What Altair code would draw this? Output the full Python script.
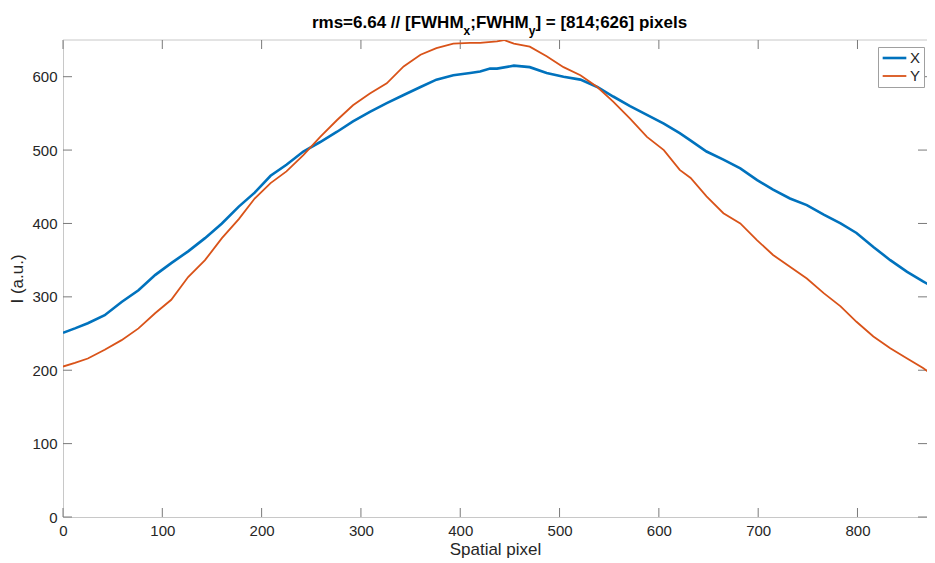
import altair as alt
import pandas as pd

# ---------------- data ----------------
series_names = ["X", "Y"]
series_colors = ["#0072BD", "#D95319"]

blue_x = [0, 12, 25, 42, 59, 76, 93, 109, 126, 143, 160, 177, 193, 209, 225, 242,
          259, 276, 292, 309, 326, 343, 360, 376, 393, 410, 420, 430, 437, 454, 470,
          487, 504, 521, 538, 554, 571, 588, 605, 621, 631, 648, 665, 682, 699, 715,
          732, 749, 766, 783, 799, 816, 833, 850, 866, 878]
blue_y = [251, 257, 264, 275, 293, 309, 330, 346, 362, 380, 400, 423, 442, 465, 480, 498,
          511, 525, 539, 552, 564, 575, 586, 596, 602, 605, 607, 611, 611, 615, 613,
          605, 600, 596, 586, 573, 560, 548, 536, 523, 514, 498, 487, 475, 459, 446,
          434, 425, 412, 400, 387, 368, 350, 334, 321, 312]

orange_x = [0, 12, 25, 42, 59, 76, 93, 109, 126, 143, 160, 177, 193, 209, 225, 242,
            259, 276, 292, 309, 326, 343, 360, 376, 393, 410, 420, 437, 444, 454, 470,
            487, 504, 521, 538, 554, 571, 588, 605, 621, 632, 648, 665, 682, 699, 715,
            732, 749, 766, 783, 799, 816, 833, 850, 866, 878]
orange_y = [205, 210, 216, 228, 241, 257, 278, 296, 327, 350, 380, 406, 434, 455, 471, 493,
            518, 541, 561, 577, 591, 614, 630, 639, 645, 646, 646, 648, 650, 645, 641,
            628, 613, 602, 586, 566, 543, 518, 500, 473, 462, 437, 414, 400, 377, 357,
            341, 325, 305, 287, 266, 246, 230, 216, 203, 191]

x_ticks = [0, 100, 200, 300, 400, 500, 600, 700, 800]
y_ticks = [0, 100, 200, 300, 400, 500, 600]
x_domain = [0, 870]
y_domain = [0, 650]

title_parts = ["rms=6.64 // [FWHM", "x", ";FWHM", "y", "] = [814;626] pixels"]
x_title = "Spatial pixel"
y_title = "I (a.u.)"

# ---------------- styling ----------------
W, H = 864, 477
FONT = "Liberation Sans"
TEXT = "#262626"
DOMAIN = "#c8c8c8"
TICK = "#7a7a7a"
TICK_LEN = 9

df = pd.concat([
    pd.DataFrame({"x": blue_x, "y": blue_y, "s": series_names[0]}),
    pd.DataFrame({"x": orange_x, "y": orange_y, "s": series_names[1]}),
], ignore_index=True)

xscale = alt.Scale(domain=x_domain, nice=False, zero=False)
yscale = alt.Scale(domain=y_domain, nice=False)

xaxis = alt.Axis(values=x_ticks, ticks=False, grid=False, domainColor=DOMAIN,
                 labelFont=FONT, labelFontSize=15, labelColor=TEXT, labelPadding=6,
                 labelFlush=False, labelOverlap=False,
                 titleFont=FONT, titleFontSize=17, titleColor=TEXT,
                 titleFontWeight="normal", titlePadding=3)
yaxis = alt.Axis(values=y_ticks, ticks=False, grid=False, domainColor=DOMAIN,
                 labelFont=FONT, labelFontSize=15, labelColor=TEXT, labelPadding=6,
                 labelFlush=False, labelOverlap=False,
                 titleFont=FONT, titleFontSize=17, titleColor=TEXT,
                 titleFontWeight="normal", titlePadding=5)


def X():
    return alt.X("x:Q", scale=xscale, axis=xaxis, title=x_title)


def Y():
    return alt.Y("y:Q", scale=yscale, axis=yaxis, title=y_title)


lines = alt.Chart(df).mark_line(clip=True).encode(
    x=X(), y=Y(),
    color=alt.Color("s:N", scale=alt.Scale(domain=series_names, range=series_colors),
                    legend=alt.Legend(orient="none", legendX=815, legendY=7, title=None,
                                      symbolType="stroke", symbolSize=560,
                                      symbolStrokeWidth=1.6, labelFont=FONT,
                                      labelFontSize=15, labelColor=TEXT,
                                      fillColor="white", strokeColor="#a0a0a0",
                                      padding=3, rowPadding=2, clipHeight=16,
                                      labelOffset=2)),
    strokeWidth=alt.StrokeWidth("s:N", scale=alt.Scale(domain=series_names, range=[2.6, 1.8]),
                                legend=None),
    detail="s:N",
)

xt = pd.DataFrame({"x": x_ticks})
yt = pd.DataFrame({"y": y_ticks})

bottom_ticks = alt.Chart(xt).mark_rule(color=TICK, strokeWidth=1).encode(
    x=X(), y=alt.value(H), y2=alt.value(H - TICK_LEN))
top_ticks = alt.Chart(xt).mark_rule(color=TICK, strokeWidth=1).encode(
    x=X(), y=alt.value(0), y2=alt.value(TICK_LEN))
left_ticks = alt.Chart(yt).mark_rule(color=TICK, strokeWidth=1).encode(
    y=Y(), x=alt.value(0), x2=alt.value(TICK_LEN))
right_ticks = alt.Chart(yt).mark_rule(color=TICK, strokeWidth=1).encode(
    y=Y(), x=alt.value(W - TICK_LEN), x2=alt.value(W))

top_line = alt.Chart(pd.DataFrame({"a": [0]})).mark_rule(color=DOMAIN, strokeWidth=1).encode(
    x=alt.value(0), x2=alt.value(W), y=alt.value(0))

# ---------------- title with subscripts ----------------
EM = {'r': .389, 'm': .889, 's': .556, '=': .584, '6': .556, '.': .278, '4': .556,
      ' ': .278, '/': .278, '[': .333, 'F': .611, 'W': .944, 'H': .722, 'M': .833,
      'x': .556, ';': .333, ']': .333, '8': .556, '1': .556, '2': .556, 'p': .611,
      'i': .278, 'e': .556, 'l': .278, 'y': .556}
MAIN_SIZE, SUB_SIZE = 17, 12
sizes = [MAIN_SIZE, SUB_SIZE, MAIN_SIZE, SUB_SIZE, MAIN_SIZE]
baselines = [-12, -5, -12, -5, -12]
widths = [sum(EM.get(c, .556) for c in t) * s for t, s in zip(title_parts, sizes)]
center = 436.5
pos = center - sum(widths) / 2
title_layers = []
for t, s, b, w in zip(title_parts, sizes, baselines, widths):
    title_layers.append(
        alt.Chart(pd.DataFrame({"t": [t]})).mark_text(
            align="left", baseline="alphabetic", font=FONT, fontSize=s,
            fontWeight="bold", color="black").encode(
            text="t:N", x=alt.value(pos), y=alt.value(b)))
    pos += w

chart = alt.layer(top_line, bottom_ticks, top_ticks, left_ticks, right_ticks, lines,
                  *title_layers).properties(
    width=W, height=H,
    padding={"left": 55, "top": 32, "right": 0, "bottom": 44},
    autosize=alt.AutoSizeParams(type="none"),
    background="white",
).configure_view(stroke=None)

chart.save("out.html", embed_options={"renderer": "svg", "actions": False})
